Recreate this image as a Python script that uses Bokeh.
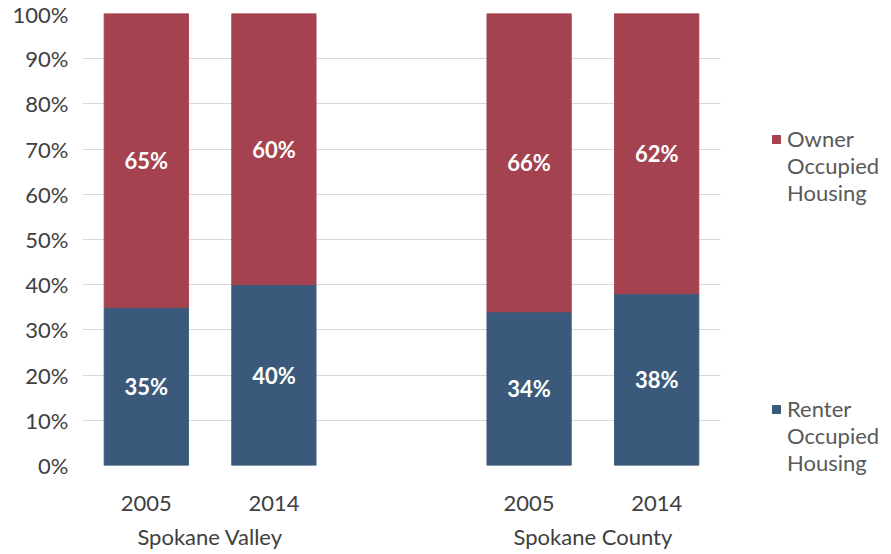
from bokeh.plotting import figure
from bokeh.models import (FactorRange, ColumnDataSource, Legend, LegendItem,
                          PrintfTickFormatter, FixedTicker, CategoricalAxis)
from bokeh.core.properties import value
from bokeh.embed import file_html
from bokeh.resources import INLINE

# ---- data ----
places = ["Spokane Valley", "Spokane Valley", "Spokane County", "Spokane County"]
years = ["2005", "2014", "2005", "2014"]
renter = [35, 40, 34, 38]
owner = [65, 60, 66, 62]
y_ticks = [0, 10, 20, 30, 40, 50, 60, 70, 80, 90, 100]
owner_name = ["Owner", "Occupied\nHousing"]
renter_name = ["Renter", "Occupied\nHousing"]

RED = "#A4434F"
BLUE = "#3B5A7B"
FONT = "Lato"
TXT = "#404040"

factors = list(zip(places, years))
src = ColumnDataSource(dict(
    x=factors,
    renter=renter,
    owner=owner,
    renter_mid=[r / 2 for r in renter],
    owner_mid=[r + o / 2 for r, o in zip(renter, owner)],
    renter_lbl=[f"{v}%" for v in renter],
    owner_lbl=[f"{v}%" for v in owner],
))

p = figure(
    x_range=FactorRange(*factors, group_padding=1.0, range_padding=0),
    y_range=(0, 100),
    frame_width=638, frame_height=452,
    min_border_left=82, min_border_right=155,
    min_border_top=13, min_border_bottom=70,
    output_backend="svg", toolbar_location=None,
)
p.outline_line_color = None

rs = p.vbar_stack(["renter", "owner"], x="x", width=0.66, source=src,
                  color=[BLUE, RED])

for ycol, tcol in (("renter_mid", "renter_lbl"), ("owner_mid", "owner_lbl")):
    p.text(x="x", y=ycol, text=tcol, source=src, text_align="center",
           text_baseline="middle", text_color="white",
           text_font=value(FONT), text_font_style="bold",
           text_font_size="22px")

# invisible renderer used for text-only legend rows
blank = p.scatter(x=[], y=[], fill_alpha=0, line_alpha=0)

# grid
p.xgrid.grid_line_color = None
p.ygrid.grid_line_color = "#D9D9D9"
p.ygrid.ticker = FixedTicker(ticks=y_ticks)

# y axis
ya = p.yaxis[0]
ya.ticker = FixedTicker(ticks=y_ticks)
ya.formatter = PrintfTickFormatter(format="%d%%")
ya.axis_line_color = None
ya.major_tick_line_color = None
ya.minor_tick_line_color = None
ya.major_tick_out = 0
ya.major_tick_in = 0
ya.major_label_standoff = 14
ya.major_label_text_font = FONT
ya.major_label_text_font_size = "22px"
ya.major_label_text_color = TXT

# x axis: years
xa = p.xaxis[0]
xa.axis_line_color = None
xa.major_tick_line_color = None
xa.major_tick_out = 0
xa.major_tick_in = 0
xa.major_label_standoff = 30
xa.major_label_text_font = FONT
xa.major_label_text_font_size = "22px"
xa.major_label_text_color = TXT
xa.group_text_color = None
xa.group_text_font_size = "1px"
xa.separator_line_color = None

# second x axis: place names
xa2 = CategoricalAxis(
    axis_line_color=None, major_tick_line_color=None,
    major_tick_out=0, major_tick_in=0,
    major_label_text_color=None, major_label_text_font_size="1px",
    major_label_standoff=9,
    group_text_font=FONT, group_text_font_size="22px",
    group_text_color=TXT, group_text_font_style="normal",
    separator_line_color=None,
)
p.add_layout(xa2, "below")

spacer = "\n".join(["\u2800"] * 7)
legend = Legend(
    items=[
        LegendItem(label=owner_name[0], renderers=[rs[1]]),
        LegendItem(label=owner_name[1], renderers=[blank]),
        LegendItem(label=spacer, renderers=[blank]),
        LegendItem(label=renter_name[0], renderers=[rs[0]]),
        LegendItem(label=renter_name[1], renderers=[blank]),
    ],
    location=(51, -11),
    spacing=0, padding=0, margin=0,
    glyph_width=10, glyph_height=10, label_standoff=6, label_height=27,
    label_text_font=FONT, label_text_font_size="22px",
    label_text_color="#595959", label_text_line_height=1.22,
    border_line_color=None, background_fill_alpha=0,
)
p.add_layout(legend, "right")

open("out.html", "w").write(file_html(p, INLINE))
